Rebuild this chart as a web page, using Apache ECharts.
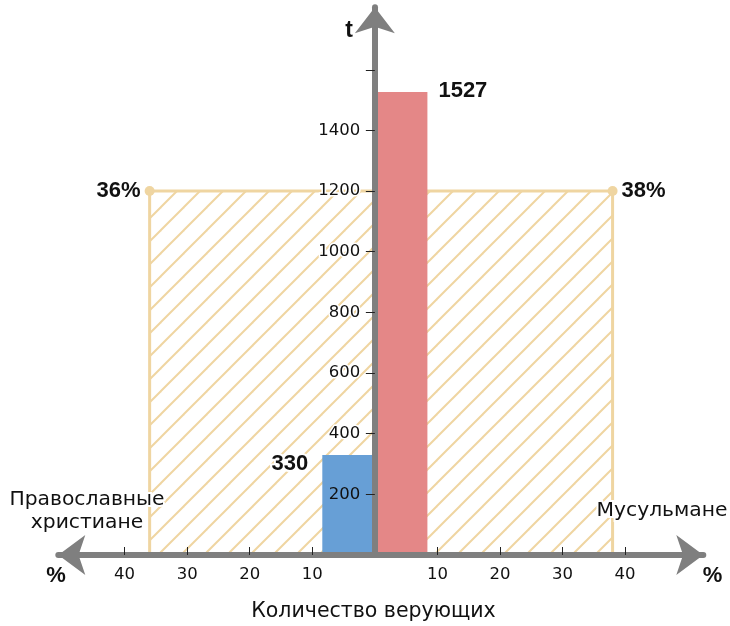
<!DOCTYPE html>
<html>
<head>
<meta charset="utf-8">
<script src="https://cdn.jsdelivr.net/npm/echarts@6/dist/echarts.min.js"></script>
<style>
  html, body { margin: 0; padding: 0; background: #fff; }
  #chart { width: 730px; height: 626px; }
</style>
</head>
<body>
<div id="chart"></div>
<script>
// данные
const groups = ['Православные\nхристиане', 'Мусульмане'];
const sides = [-1, 1];            // слева / справа от оси t
const shares = [36, 38];          // доля, %
const shareLevel = [1200, 1200];  // высота заштрихованной области
const believers = [330, 1527];    // t
const barColors = ['#679fd6', '#e48787'];
const xTicks = [-40, -30, -20, -10, 10, 20, 30, 40];
const yTicks = [200, 400, 600, 800, 1000, 1200, 1400, 1600];
const yLabels = [200, 400, 600, 800, 1000, 1200, 1400];

const BAR_SPAN = 8.4;
const FONT = '"DejaVu Sans", Arial, sans-serif';
const BOLD_FONT = '"Liberation Sans", Arial, Helvetica, sans-serif';
const AXIS_GRAY = '#7f7f7f';
const HATCH = '#efd5a1';

// штриховка
function makeHatch () {
  const p = 23;
  const c = document.createElement('canvas');
  c.width = p;
  c.height = p;
  const ctx = c.getContext('2d');
  ctx.strokeStyle = HATCH;
  ctx.lineWidth = 2;
  for (let k = -1; k <= 1; k++) {
    ctx.beginPath();
    ctx.moveTo(k * p - 2, p + 2);
    ctx.lineTo(k * p + p + 2, -2);
    ctx.stroke();
  }
  return c;
}
const hatch = makeHatch();

const chart = echarts.init(document.getElementById('chart'), null, { renderer: 'canvas' });

const X_MIN = -50.6;
const X_MAX = 52.5;
const GRID_LEFT = 58.3;
const GRID_RIGHT = 26.7;
// ось t стоит на нуле оси x
const zeroOffset = (0 - X_MIN) / (X_MAX - X_MIN) * (730 - GRID_LEFT - GRID_RIGHT);

const areaData = shares.map((s, i) => ({
  value: [sides[i] * s, shareLevel[i]],
  label: { position: sides[i] < 0 ? 'left' : 'right' }
}));
const barData = believers.map((v, i) => ({ value: [sides[i] * BAR_SPAN, v], itemStyle: { color: barColors[i] } }));

const yLabelStyle = { fontSize: 16.5, fontFamily: FONT, color: '#111' };

chart.setOption({
  animation: false,
  grid: { left: GRID_LEFT, right: GRID_RIGHT, top: 7.3, bottom: 71 },
  xAxis: {
    type: 'value',
    min: X_MIN,
    max: X_MAX,
    z: 10,
    splitLine: { show: false },
    axisLine: {
      onZero: true,
      symbol: ['arrow', 'arrow'],
      symbolSize: [30, 27],
      lineStyle: { color: AXIS_GRAY, width: 6 }
    },
    axisTick: {
      inside: true,
      length: 8,
      customValues: xTicks,
      lineStyle: { color: '#222', width: 1 }
    },
    axisLabel: {
      customValues: xTicks,
      margin: 11.5,
      fontSize: 16.5,
      fontFamily: FONT,
      color: '#111',
      formatter: v => String(Math.abs(v))
    }
  },
  yAxis: {
    type: 'value',
    min: 0,
    max: 1806,
    z: 10,
    position: 'left',
    offset: -zeroOffset,
    splitLine: { show: false },
    axisLine: {
      onZero: false,
      symbol: ['none', 'arrow'],
      symbolSize: [30, 26],
      lineStyle: { color: AXIS_GRAY, width: 6 }
    },
    axisTick: {
      length: 9,
      customValues: yTicks,
      lineStyle: { color: '#222', width: 1 }
    },
    axisLabel: {
      customValues: yLabels,
      margin: 14.5,
      ...yLabelStyle,
      // над синим столбцом подпись без белой обводки
      formatter: v => (v < believers[0] ? '{plain|' + v + '}' : '{halo|' + v + '}'),
      rich: {
        plain: { ...yLabelStyle },
        halo: { ...yLabelStyle, textBorderColor: '#fff', textBorderWidth: 3 }
      }
    }
  },
  graphic: {
    elements: [
      { type: 'text', z: 20, x: 349, y: 31, style: { text: 't', font: 'bold 23px ' + BOLD_FONT, fill: '#111', align: 'center', verticalAlign: 'middle' } },
      { type: 'text', z: 20, x: 56, y: 576, style: { text: '%', font: 'bold 22px ' + BOLD_FONT, fill: '#111', align: 'center', verticalAlign: 'middle' } },
      { type: 'text', z: 20, x: 712.5, y: 576, style: { text: '%', font: 'bold 22px ' + BOLD_FONT, fill: '#111', align: 'center', verticalAlign: 'middle' } },
      { type: 'text', z: 20, x: 373.5, y: 612, style: { text: 'Количество верующих', font: '20.5px ' + FONT, fill: '#111', align: 'center', verticalAlign: 'middle' } },
      { type: 'text', z: 20, x: 87, y: 511.5, style: { text: groups[0], font: '20.3px ' + FONT, lineHeight: 23, fill: '#111', align: 'center', verticalAlign: 'middle', stroke: '#fff', lineWidth: 4 } },
      { type: 'text', z: 20, x: 662, y: 511, style: { text: groups[1], font: '20.3px ' + FONT, fill: '#111', align: 'center', verticalAlign: 'middle', stroke: '#fff', lineWidth: 4 } }
    ]
  },
  series: [
    {
      type: 'custom',
      z: 1,
      data: areaData,
      renderItem: (params, api) => {
        const x = api.value(0);
        const h = api.value(1);
        const a = api.coord([x, h]);
        const b = api.coord([0, 0]);
        const c = api.coord([x, 0]);
        return {
          type: 'group',
          children: [
            {
              type: 'rect',
              shape: { x: Math.min(a[0], b[0]), y: a[1], width: Math.abs(b[0] - a[0]), height: b[1] - a[1] },
              style: { fill: { image: hatch, repeat: 'repeat' } }
            },
            {
              type: 'polyline',
              shape: { points: [c, a, [b[0], a[1]]] },
              style: { stroke: HATCH, lineWidth: 3, fill: null }
            }
          ]
        };
      }
    },
    {
      type: 'scatter',
      z: 3,
      symbolSize: 10,
      itemStyle: { color: HATCH, opacity: 1 },
      data: areaData,
      label: {
        show: true,
        formatter: p => Math.abs(p.value[0]) + '%',
        fontSize: 22,
        fontWeight: 'bold',
        fontFamily: BOLD_FONT,
        color: '#111',
        distance: 4
      }
    },
    {
      type: 'custom',
      z: 2,
      data: barData,
      renderItem: (params, api) => {
        const x = api.value(0);
        const v = api.value(1);
        const a = api.coord([x, v]);
        const b = api.coord([0, 0]);
        const left = x < 0;
        return {
          type: 'group',
          children: [
            {
              type: 'rect',
              shape: { x: Math.min(a[0], b[0]), y: a[1], width: Math.abs(b[0] - a[0]), height: b[1] - a[1] },
              style: { fill: api.visual('color') }
            },
            {
              type: 'text',
              x: left ? a[0] - 14 : a[0] + 11,
              y: a[1] + (left ? 9.5 : -1),
              style: {
                text: String(v),
                font: 'bold 22px ' + BOLD_FONT,
                fill: '#111',
                align: left ? 'right' : 'left',
                verticalAlign: 'middle',
                stroke: '#fff',
                lineWidth: 4
              }
            }
          ]
        };
      }
    }
  ]
});
</script>
</body>
</html>
